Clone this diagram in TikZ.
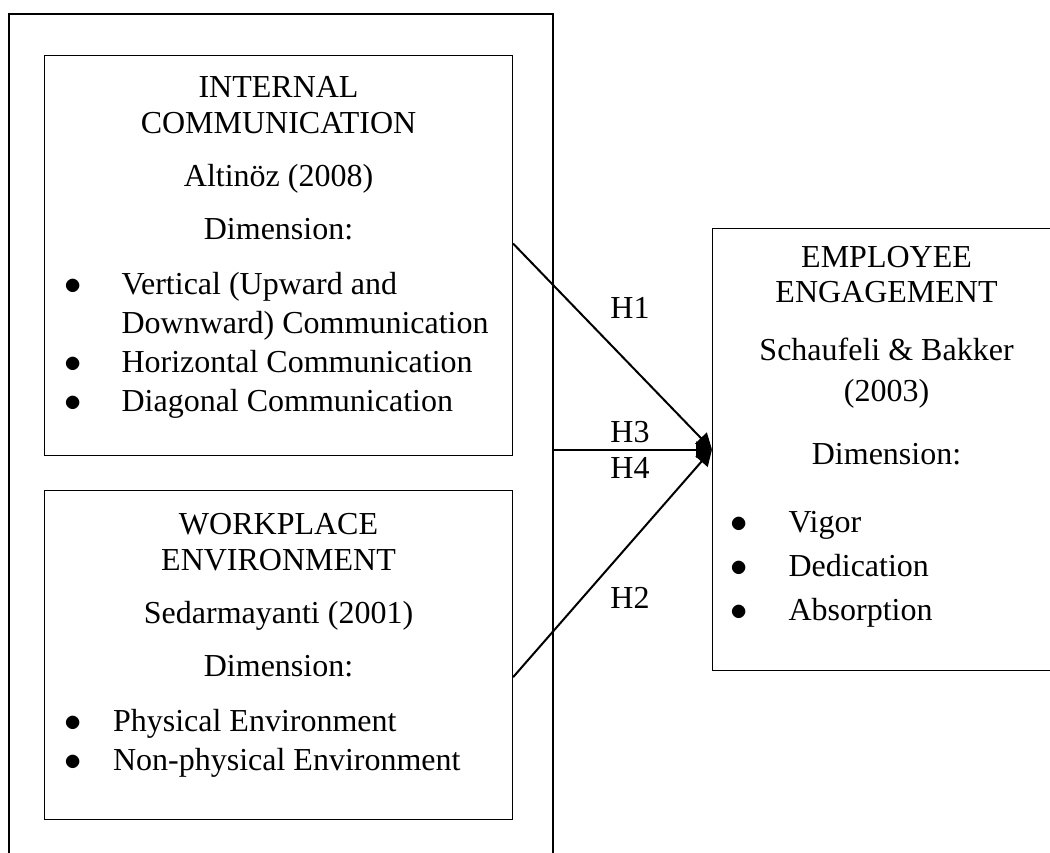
\documentclass[tikz,border=0pt]{standalone}
\usepackage{fontspec}
\setmainfont{Liberation Serif}
\usetikzlibrary{arrows.meta, positioning}

\newcommand{\bul}[3]{\makebox[\linewidth][l]{\hspace{#1}\makebox[#2][l]{$\bullet$}#3}}
\newcommand{\cont}[3]{\makebox[\linewidth][l]{\hspace{#1}\hspace{#2}#3}}

\begin{document}
\begin{tikzpicture}[
    x=0.5pt, y=-0.5pt,
    node distance=17pt,
    every node/.style={font=\fontsize{16pt}{19pt}\selectfont},
    outerbox/.style={rectangle, draw, line width=0.8pt, minimum width=272pt, minimum height=450pt, anchor=north west},
    conbox/.style={rectangle, draw, line width=0.55pt, inner sep=0pt, anchor=north west},
    hyp/.style={inner sep=1pt},
    arrow/.style={line width=1pt, -{Triangle[length=8pt, width=8pt]}}
]
\useasboundingbox (0,0) rectangle (1050,852);
\clip (0,0) rectangle (1050,852);

\node[outerbox] (outer) at (8,13) {};

\node[conbox] (ic) at (44,55) {\parbox[c][200pt][t]{234pt}{\centering
    \rule{0pt}{21pt}INTERNAL\\[-1pt]
    COMMUNICATION\\[7.5pt]
    Altinöz (2008)\\[7.5pt]
    Dimension:\\[8.5pt]
    \bul{10pt}{28.5pt}{Vertical (Upward and}\\[0.5pt]
    \cont{10pt}{28.5pt}{Downward) Communication}\\[0.5pt]
    \bul{10pt}{28.5pt}{Horizontal Communication}\\[0.5pt]
    \bul{10pt}{28.5pt}{Diagonal Communication}}};

\node[conbox, below=of ic.south west, anchor=north west] (wp) {\parbox[c][164.5pt][t]{234pt}{\centering
    \rule{0pt}{22pt}WORKPLACE\\[-1pt]
    ENVIRONMENT\\[7.5pt]
    Sedarmayanti (2001)\\[7.5pt]
    Dimension:\\[8.5pt]
    \bul{10pt}{24.25pt}{Physical Environment}\\[0.5pt]
    \bul{10pt}{24.25pt}{Non-physical Environment}}};

\node[conbox] (ee) at (712,228) {\parbox[c][221pt][t]{174pt}{\centering
    \rule{0pt}{19.5pt}EMPLOYEE\\[-1.5pt]
    ENGAGEMENT\\[10pt]
    Schaufeli \& Bakker\\[1.5pt]
    (2003)\\[12.5pt]
    Dimension:\\[15pt]
    \bul{9pt}{29pt}{Vigor}\\[3pt]
    \bul{9pt}{29pt}{Dedication}\\[3pt]
    \bul{9pt}{29pt}{Absorption}}};

\node[hyp] (h1) at (630,308) {H1};
\node[hyp] (h3) at (630,432) {H3};
\node[hyp] (h4) at (630,468) {H4};
\node[hyp] (h2) at (630,598) {H2};

\draw[arrow] ([yshift=6pt]ic.east) -- (ee.west);
\draw[arrow] (outer.east |- ee.west) -- (ee.west);
\draw[arrow] ([yshift=-11pt]wp.east) -- (ee.west);

\end{tikzpicture}
\end{document}
